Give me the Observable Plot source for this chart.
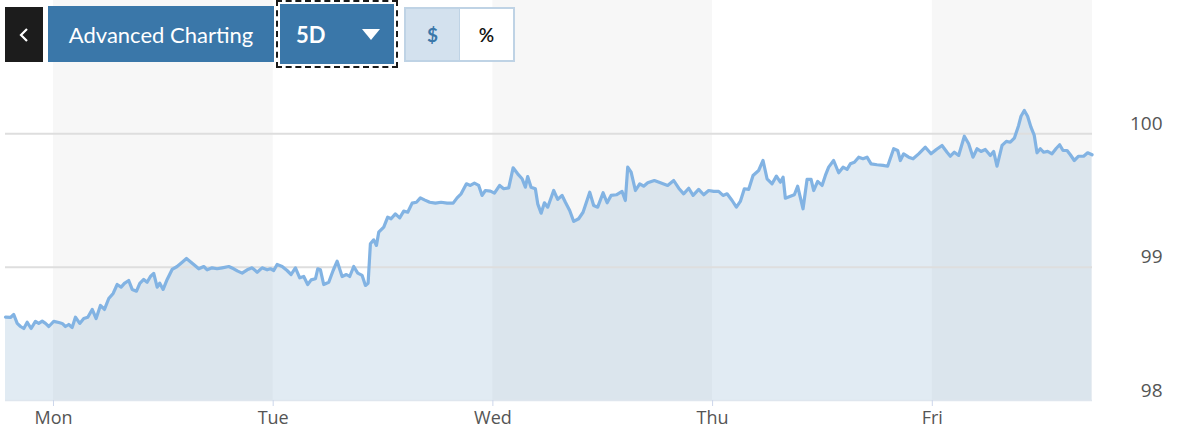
<!DOCTYPE html>
<html>
<head>
<meta charset="utf-8">
<script src="https://cdn.jsdelivr.net/npm/d3@7"></script>
<script src="https://cdn.jsdelivr.net/npm/@observablehq/plot@0.6"></script>
<style>
  html, body { margin: 0; padding: 0; background: #fff; }
  #wrap { position: relative; width: 1204px; height: 443px; overflow: hidden; font-family: Lato, sans-serif; }
  #chart { position: absolute; left: 0; top: 0; }
  .btn { position: absolute; box-sizing: border-box; display: flex; align-items: center; justify-content: center; color: #fff; }
  #back { left: 5px; top: 7px; width: 38px; height: 55px; background: #1c1c1c; }
  #adv { left: 48px; top: 6px; width: 226px; height: 56px; background: #3a77a9; font-size: 22px; }
  #fived { left: 280px; top: 4px; width: 114px; height: 60px; background: #3a77a9; outline: 2px dashed #1a1a1a; outline-offset: 2px; font-size: 22px; font-weight: 700; justify-content: flex-start; padding-left: 16px; }
  #fived .tri { position: absolute; left: 82px; top: 25px; width: 0; height: 0; border-left: 9px solid transparent; border-right: 9px solid transparent; border-top: 11px solid #fff; }
  #toggle { position: absolute; left: 404px; top: 7px; width: 111px; height: 55px; box-sizing: border-box; border: 2px solid #bfd3e5; display: flex; font-family: Lato, sans-serif; }
  #toggle div { flex: 1; display: flex; align-items: center; justify-content: center; font-size: 19px; }
  #toggle .usd { background: #d3e1ee; color: #3a77a9; border-right: 1px solid #bfd3e5; font-weight: 700; }
  #toggle .pct { background: #fff; color: #111; font-weight: 600; }
</style>
</head>
<body>
<div id="wrap">
  <div id="chart"></div>
  <div class="btn" id="back"><svg width="12" height="16" viewBox="0 0 12 16"><polyline points="9,2 3,8 9,14" fill="none" stroke="#fff" stroke-width="2.2"/></svg></div>
  <div class="btn" id="adv">Advanced Charting</div>
  <div class="btn" id="fived">5D<span class="tri"></span></div>
  <div id="toggle"><div class="usd">$</div><div class="pct">%</div></div>
</div>
<script>
// hours from Monday 00:00
const hours = [
-5.24,-4.70,-4.34,-3.96,-3.60,-3.24,-2.87,-2.44,-1.97,-1.61,-1.23,-0.87,-0.51,0.03,0.58,0.95,1.31,1.67,2.04,2.40,
2.87,3.31,3.75,4.23,4.66,5.13,5.57,6.04,6.52,6.96,7.39,7.75,8.22,8.60,9.07,9.43,9.86,10.23,10.59,10.95,
11.33,11.61,11.98,12.42,12.96,13.51,14.06,14.53,14.89,15.32,15.87,16.42,16.79,17.33,17.88,18.43,19.15,19.69,20.13,20.61,
21.16,21.70,22.25,22.79,23.34,23.70,24.06,24.43,24.98,25.52,25.96,26.43,26.90,27.34,27.77,28.15,28.62,28.87,29.16,29.52,
30.07,30.55,30.99,31.53,32.00,32.36,32.80,33.24,33.72,34.08,34.37,34.62,34.98,35.28,35.53,36.08,36.51,36.88,37.35,37.82,
38.26,38.70,39.18,39.65,40.08,40.52,41.10,41.72,42.34,43.00,43.66,44.09,44.53,45.11,45.54,45.98,46.45,46.82,47.18,47.73,
48.17,48.74,49.18,49.73,50.21,50.71,51.19,51.55,51.80,52.17,52.64,52.90,53.27,53.63,53.99,54.64,55.08,55.56,55.92,56.39,
56.83,57.37,57.85,58.58,59.01,59.45,60.04,60.48,60.91,61.49,62.11,62.47,62.73,63.10,63.57,64.04,64.47,64.91,65.64,66.30,
67.09,67.75,68.30,68.84,69.39,69.87,70.48,71.03,71.57,72.12,72.66,73.14,73.58,74.13,74.60,75.03,75.47,75.94,76.42,77.03,
77.51,77.95,78.50,78.97,79.40,79.70,79.95,80.50,80.93,81.29,81.88,82.32,82.76,83.04,83.48,83.96,84.32,84.68,85.22,85.77,
86.25,86.69,87.05,87.49,87.96,88.43,88.87,89.31,89.96,90.62,91.12,91.78,92.22,92.51,92.87,93.42,93.90,94.51,95.24,95.86,
96.44,97.06,97.61,97.97,98.41,98.88,99.50,99.97,100.45,100.89,101.32,101.79,102.34,102.70,103.07,103.62,104.09,104.52,104.96,105.43,
105.69,106.05,106.41,106.78,107.14,107.44,107.80,108.16,108.60,109.08,109.55,109.91,110.28,110.72,111.08,111.51,111.98,112.53,112.97,113.45
];
const prices = [
98.625,98.623,98.645,98.578,98.555,98.540,98.587,98.540,98.593,98.578,98.595,98.578,98.555,98.593,98.585,98.578,98.555,98.570,98.548,98.625,
98.578,98.615,98.625,98.683,98.615,98.713,98.683,98.765,98.803,98.870,98.850,98.878,98.900,98.833,98.820,98.878,98.908,98.887,98.930,98.953,
98.850,98.880,98.833,98.908,98.983,99.005,99.037,99.065,99.045,99.020,98.988,99.005,98.980,98.995,98.988,98.995,99.005,98.988,98.970,98.955,
98.980,98.995,98.962,98.995,98.980,98.988,98.975,99.020,99.005,98.975,98.945,98.995,98.920,98.930,98.870,98.905,98.913,98.988,98.980,98.870,
98.887,98.975,99.045,98.930,98.945,98.930,99.005,98.955,98.938,98.863,98.880,99.175,99.205,99.163,99.262,99.300,99.375,99.363,99.400,99.370,
99.420,99.412,99.480,99.487,99.520,99.505,99.487,99.480,99.487,99.480,99.480,99.520,99.550,99.625,99.613,99.630,99.613,99.538,99.575,99.570,
99.555,99.613,99.588,99.595,99.745,99.700,99.663,99.600,99.680,99.600,99.588,99.475,99.405,99.483,99.450,99.575,99.508,99.538,99.487,99.425,
99.343,99.363,99.412,99.562,99.463,99.450,99.558,99.483,99.538,99.543,99.568,99.500,99.750,99.712,99.575,99.625,99.607,99.633,99.650,99.633,
99.613,99.650,99.592,99.550,99.592,99.538,99.583,99.543,99.575,99.568,99.568,99.538,99.550,99.500,99.450,99.493,99.588,99.583,99.688,99.725,
99.800,99.663,99.625,99.683,99.637,99.675,99.517,99.532,99.543,99.607,99.438,99.658,99.658,99.575,99.643,99.613,99.688,99.750,99.800,99.708,
99.750,99.733,99.775,99.787,99.825,99.813,99.825,99.775,99.768,99.763,99.757,99.888,99.875,99.800,99.850,99.825,99.813,99.850,99.900,99.850,
99.883,99.913,99.862,99.832,99.862,99.838,99.982,99.925,99.825,99.888,99.868,99.883,99.838,99.868,99.757,99.913,99.943,99.937,99.967,100.063,
100.132,100.175,100.132,100.050,99.988,99.858,99.888,99.862,99.868,99.850,99.892,99.918,99.875,99.875,99.843,99.800,99.832,99.832,99.858,99.843
];
const dayTicks = [0, 24, 48, 72, 96];
const dayLabels = ["Mon", "Tue", "Wed", "Thu", "Fri"];
const bandStart = [0, 48, 96];
const bandEnd = [24, 72, 113.5];
const yTicks = [98, 99, 100];
const yGrid = [99, 100];

const series = hours.map((h, i) => ({h, p: prices[i]}));
const bands = bandStart.map((s, i) => ({s, e: bandEnd[i]}));

const chart = Plot.plot({
  width: 1204,
  height: 443,
  marginLeft: 5,
  marginRight: 112,
  marginTop: 0,
  marginBottom: 43,
  style: {fontFamily: "'Open Sans', sans-serif", background: "transparent"},
  x: {domain: [-5.24, 113.5], label: null},
  y: {domain: [98, 101], label: null},
  marks: [
    Plot.rect(bands, {x1: "s", x2: "e", y1: 98, y2: 101, fill: "#f7f7f7"}),
    Plot.areaY(series, {x: "h", y1: 98, y2: "p", fill: "#9dbdd8", fillOpacity: 0.3}),
    Plot.ruleY(yGrid, {stroke: "#dedede", strokeWidth: 2}),
    Plot.ruleY([98], {stroke: "#dfe6ee", strokeWidth: 1.5}),
    Plot.line(series, {x: "h", y: "p", stroke: "#82b3e3", strokeWidth: 3.2, strokeLinejoin: "round"}),
    Plot.axisX(dayTicks, {tickFormat: d => dayLabels[dayTicks.indexOf(d)], tickSize: 6, tickPadding: 5, stroke: "#ccd6eb", fill: "#555", fontSize: 18, label: null}),
    Plot.axisY(yTicks, {anchor: "right", tickSize: 0, tickPadding: 70, textAnchor: "end", dy: -10, fill: "#555", fontSize: 19, tickFormat: d => String(d), label: null})
  ]
});
document.getElementById("chart").appendChild(chart);
</script>
</body>
</html>
